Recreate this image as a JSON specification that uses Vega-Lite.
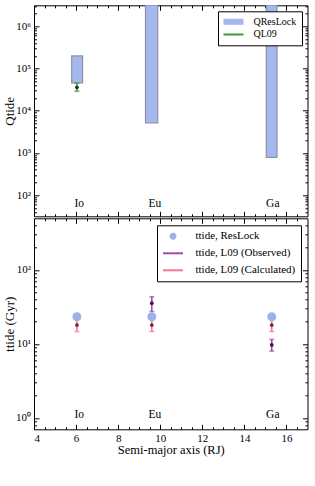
{
  "$schema": "https://vega.github.io/schema/vega-lite/v6.json",
  "background": "white",
  "padding": {"left": 3, "top": 4.3, "right": 0, "bottom": 0},
  "spacing": 0,
  "resolve": {"scale": {"color": "independent", "shape": "independent"}, "legend": {"color": "independent", "shape": "independent"}},
  "datasets": {
    "qbars": [
      {"moon": "Io", "x1": 5.79, "x2": 6.31, "q1": 46000, "q2": 200000, "series": "QResLock"},
      {"moon": "Eu", "x1": 9.3, "x2": 9.88, "q1": 5200, "q2": 10000000, "series": "QResLock"},
      {"moon": "Ga", "x1": 15.04, "x2": 15.55, "q1": 790, "q2": 10000000, "series": "QResLock"}
    ],
    "ql09": [
      {"moon": "Io", "x": 6.04, "q": 36000, "lo": 29000, "hi": 45000, "series": "QL09"}
    ],
    "names": [
      {"x": 6.15, "name": "Io"},
      {"x": 9.75, "name": "Eu"},
      {"x": 15.35, "name": "Ga"}
    ],
    "reslock": [
      {"moon": "Io", "x": 6.04, "t": 23.3, "series": "ttide, ResLock"},
      {"moon": "Eu", "x": 9.6, "t": 23.3, "series": "ttide, ResLock"},
      {"moon": "Ga", "x": 15.3, "t": 23.3, "series": "ttide, ResLock"}
    ],
    "calc": [
      {"moon": "Io", "x": 6.04, "t": 18, "lo": 14.7, "hi": 21.5},
      {"moon": "Eu", "x": 9.6, "t": 18, "lo": 14.7, "hi": 21.5},
      {"moon": "Ga", "x": 15.3, "t": 18, "lo": 14.7, "hi": 21.5}
    ],
    "obs": [
      {"moon": "Eu", "x": 9.6, "t": 35.5, "lo": 27.5, "hi": 43.5},
      {"moon": "Ga", "x": 15.3, "t": 9.7, "lo": 8.0, "hi": 11.5}
    ]
  },
  "vconcat": [
    {
      "width": 273.5,
      "height": 211,
      "resolve": {"axis": {"x": "independent", "y": "independent"}},
      "layer": [
        {
          "data": {"name": "qbars"},
          "mark": {"type": "rect", "fill": "#a5b7ef", "stroke": "#8d93a3", "strokeWidth": 1.2, "clip": true},
          "encoding": {
            "x": {"field": "x1", "type": "quantitative", "scale": {"domain": [4, 17]},
              "axis": {"orient": "bottom", "values": [4,6,8,10,12,14,16], "labels": false, "title": null, "domain": false, "grid": false, "tickColor": "black", "tickWidth": 1, "tickSize": -5}},
            "x2": {"field": "x2"},
            "y": {"field": "q1", "type": "quantitative", "scale": {"type": "log", "domain": [31.62, 3162278]},
              "axis": {"orient": "left", "values": [100,1000,10000,100000,1000000],
                "labelExpr": "'10' + ['⁰','¹','²','³','⁴','⁵','⁶'][round(log(datum.value)/LN10)]",
                "labelOverlap": false, "labelPadding": 8.5, "labelFont": "Liberation Serif", "labelFontSize": 11, "labelColor": "black",
                "title": "Qtide", "titleFont": "Liberation Serif", "titleFontSize": 13, "titleFontWeight": "normal", "titleColor": "black", "titlePadding": -1,
                "domain": false, "grid": false, "tickColor": "black", "tickWidth": 1, "tickSize": -5}},
            "y2": {"field": "q2"}
          }
        },
        {
          "data": {"name": "ql09"},
          "mark": {"type": "errorbar", "ticks": true, "thickness": 1.6, "color": "#3c9a3c"},
          "encoding": {
            "x": {"field": "x", "type": "quantitative", "scale": {"domain": [4, 17]}, "axis": null},
            "y": {"field": "lo", "type": "quantitative", "scale": {"type": "log", "domain": [31.62, 3162278]}, "axis": null},
            "y2": {"field": "hi"}
          }
        },
        {
          "data": {"name": "ql09"},
          "mark": {"type": "point", "filled": true, "opacity": 1, "size": 14, "color": "#123f12"},
          "encoding": {
            "x": {"field": "x", "type": "quantitative", "scale": {"domain": [4, 17]},
              "axis": {"orient": "top", "values": [4,6,8,10,12,14,16], "labels": false, "title": null, "domain": false, "grid": false, "tickColor": "black", "tickWidth": 1, "tickSize": -5}},
            "y": {"field": "q", "type": "quantitative", "scale": {"type": "log", "domain": [31.62, 3162278]},
              "axis": {"orient": "right", "values": [100,1000,10000,100000,1000000], "labels": false, "title": null, "domain": false, "grid": false, "tickColor": "black", "tickWidth": 1, "tickSize": -5}}
          }
        },
        {
          "data": {"name": "names"},
          "mark": {"type": "text", "font": "Liberation Serif", "fontSize": 11.5, "color": "black", "align": "center", "baseline": "middle"},
          "encoding": {
            "x": {"field": "x", "type": "quantitative", "scale": {"domain": [4, 17]},
              "axis": {"orient": "bottom", "values": [4.5,5,5.5,6.5,7,7.5,8.5,9,9.5,10.5,11,11.5,12.5,13,13.5,14.5,15,15.5,16.5], "labels": false, "title": null, "domain": false, "grid": false, "tickColor": "black", "tickWidth": 1, "tickSize": -2.5}},
            "y": {"datum": 61, "type": "quantitative", "scale": {"type": "log", "domain": [31.62, 3162278]},
              "axis": {"orient": "left", "values": [40,50,60,70,80,90,200,300,400,500,600,700,800,900,2000,3000,4000,5000,6000,7000,8000,9000,20000,30000,40000,50000,60000,70000,80000,90000,200000,300000,400000,500000,600000,700000,800000,900000,2000000,3000000], "labels": false, "title": null, "domain": false, "grid": false, "tickColor": "black", "tickWidth": 1, "tickSize": -2.5}},
            "text": {"field": "name"}
          }
        },
        {
          "data": {"name": "qbars"},
          "mark": {"type": "point", "filled": true, "size": 0, "opacity": 1},
          "encoding": {
            "x": {"field": "x1", "type": "quantitative", "scale": {"domain": [4, 17]},
              "axis": {"orient": "top", "values": [4.5,5,5.5,6.5,7,7.5,8.5,9,9.5,10.5,11,11.5,12.5,13,13.5,14.5,15,15.5,16.5], "labels": false, "title": null, "domain": false, "grid": false, "tickColor": "black", "tickWidth": 1, "tickSize": -2.5}},
            "y": {"field": "q1", "type": "quantitative", "scale": {"type": "log", "domain": [31.62, 3162278]},
              "axis": {"orient": "right", "values": [40,50,60,70,80,90,200,300,400,500,600,700,800,900,2000,3000,4000,5000,6000,7000,8000,9000,20000,30000,40000,50000,60000,70000,80000,90000,200000,300000,400000,500000,600000,700000,800000,900000,2000000,3000000], "labels": false, "title": null, "domain": false, "grid": false, "tickColor": "black", "tickWidth": 1, "tickSize": -2.5}},
            "color": {"field": "series", "type": "nominal",
              "scale": {"domain": ["QResLock", "QL09"], "range": ["#a5b7ef", "#3c9a3c"]},
              "legend": {"orient": "top-right", "offset": 6, "title": null, "fillColor": "white", "strokeColor": "black", "padding": 5.5, "cornerRadius": 0,
                "symbolSize": 100, "symbolOffset": 5, "symbolStrokeWidth": 0, "symbolOpacity": 1, "labelOffset": 15, "labelFont": "Liberation Serif", "labelFontSize": 10, "labelColor": "black", "rowPadding": 2.7}},
            "shape": {"field": "series", "type": "nominal",
              "scale": {"domain": ["QResLock", "QL09"], "range": ["M-2,-0.6H2V0.6H-2Z", "M-2,-0.2H2V0.2H-2Z"]}}
          }
        }
      ]
    },
    {
      "width": 273.5,
      "height": 211,
      "resolve": {"axis": {"x": "independent", "y": "independent"}},
      "layer": [
        {
          "data": {"name": "calc"},
          "mark": {"type": "errorbar", "ticks": true, "thickness": 1.6, "color": "#f07b90"},
          "encoding": {
            "x": {"field": "x", "type": "quantitative", "scale": {"domain": [4, 17]}, "axis": null},
            "y": {"field": "lo", "type": "quantitative", "scale": {"type": "log", "domain": [0.7, 500]}, "axis": null},
            "y2": {"field": "hi"}
          }
        },
        {
          "data": {"name": "obs"},
          "mark": {"type": "errorbar", "ticks": true, "thickness": 1.6, "color": "#a24aa8"},
          "encoding": {
            "x": {"field": "x", "type": "quantitative", "scale": {"domain": [4, 17]}, "axis": null},
            "y": {"field": "lo", "type": "quantitative", "scale": {"type": "log", "domain": [0.7, 500]}, "axis": null},
            "y2": {"field": "hi"}
          }
        },
        {
          "data": {"name": "calc"},
          "mark": {"type": "point", "filled": true, "opacity": 1, "size": 14, "color": "#8e1c30"},
          "encoding": {
            "x": {"field": "x", "type": "quantitative", "scale": {"domain": [4, 17]},
              "axis": {"orient": "bottom", "values": [4,6,8,10,12,14,16],
                "labelOverlap": false, "labelPadding": 8, "labelFont": "Liberation Serif", "labelFontSize": 11, "labelColor": "black",
                "title": "Semi-major axis (RJ)", "titleFont": "Liberation Serif", "titleFontSize": 12.5, "titleFontWeight": "normal", "titleColor": "black", "titlePadding": 0.5,
                "domain": false, "grid": false, "tickColor": "black", "tickWidth": 1, "tickSize": -5}},
            "y": {"field": "t", "type": "quantitative", "scale": {"type": "log", "domain": [0.7, 500]},
              "axis": {"orient": "left", "values": [1,10,100],
                "labelExpr": "'10' + ['⁰','¹','²','³','⁴','⁵','⁶'][round(log(datum.value)/LN10)]",
                "labelOverlap": false, "labelPadding": 8.5, "labelFont": "Liberation Serif", "labelFontSize": 11, "labelColor": "black",
                "title": "ttide (Gyr)", "titleFont": "Liberation Serif", "titleFontSize": 13, "titleFontWeight": "normal", "titleColor": "black", "titlePadding": -1,
                "domain": false, "grid": false, "tickColor": "black", "tickWidth": 1, "tickSize": -5}}
          }
        },
        {
          "data": {"name": "obs"},
          "mark": {"type": "point", "filled": true, "opacity": 1, "size": 14, "color": "#4a0f4e"},
          "encoding": {
            "x": {"field": "x", "type": "quantitative", "scale": {"domain": [4, 17]},
              "axis": {"orient": "top", "values": [4,6,8,10,12,14,16], "labels": false, "title": null, "domain": false, "grid": false, "tickColor": "black", "tickWidth": 1, "tickSize": -5}},
            "y": {"field": "t", "type": "quantitative", "scale": {"type": "log", "domain": [0.7, 500]},
              "axis": {"orient": "right", "values": [1,10,100], "labels": false, "title": null, "domain": false, "grid": false, "tickColor": "black", "tickWidth": 1, "tickSize": -5}}
          }
        },
        {
          "data": {"name": "reslock"},
          "mark": {"type": "point", "filled": true, "opacity": 1, "size": 165},
          "encoding": {
            "x": {"field": "x", "type": "quantitative", "scale": {"domain": [4, 17]},
              "axis": {"orient": "bottom", "values": [4.5,5,5.5,6.5,7,7.5,8.5,9,9.5,10.5,11,11.5,12.5,13,13.5,14.5,15,15.5,16.5], "labels": false, "title": null, "domain": false, "grid": false, "tickColor": "black", "tickWidth": 1, "tickSize": -2.5}},
            "y": {"field": "t", "type": "quantitative", "scale": {"type": "log", "domain": [0.7, 500]},
              "axis": {"orient": "left", "values": [0.8,0.9,2,3,4,5,6,7,8,9,20,30,40,50,60,70,80,90,200,300,400], "labels": false, "title": null, "domain": false, "grid": false, "tickColor": "black", "tickWidth": 1, "tickSize": -2.5}},
            "color": {"field": "series", "type": "nominal",
              "scale": {"domain": ["ttide, ResLock", "ttide, L09 (Observed)", "ttide, L09 (Calculated)"], "range": ["#9cb0ea", "#a24aa8", "#f07b90"]},
              "legend": {"orient": "top-right", "offset": 6.5, "title": null, "fillColor": "white", "strokeColor": "black", "padding": 5.5, "cornerRadius": 0,
                "symbolSize": 100, "symbolOffset": 5, "symbolStrokeWidth": 0, "symbolOpacity": 1, "labelOffset": 17, "labelFont": "Liberation Serif", "labelFontSize": 11, "labelColor": "black", "rowPadding": 5}},
            "shape": {"field": "series", "type": "nominal",
              "scale": {"domain": ["ttide, ResLock", "ttide, L09 (Observed)", "ttide, L09 (Calculated)"], "range": ["M0.7,0A0.7,0.7 0 1,1 -0.7,0A0.7,0.7 0 1,1 0.7,0Z", "M-2,-0.2H2V0.2H-2Z", "M-2,-0.2H2V0.2H-2Z"]}}
          }
        },
        {
          "data": {"name": "names"},
          "mark": {"type": "text", "font": "Liberation Serif", "fontSize": 11.5, "color": "black", "align": "center", "baseline": "middle"},
          "encoding": {
            "x": {"field": "x", "type": "quantitative", "scale": {"domain": [4, 17]},
              "axis": {"orient": "top", "values": [4.5,5,5.5,6.5,7,7.5,8.5,9,9.5,10.5,11,11.5,12.5,13,13.5,14.5,15,15.5,16.5], "labels": false, "title": null, "domain": false, "grid": false, "tickColor": "black", "tickWidth": 1, "tickSize": -2.5}},
            "y": {"datum": 1.09, "type": "quantitative", "scale": {"type": "log", "domain": [0.7, 500]},
              "axis": {"orient": "right", "values": [0.8,0.9,2,3,4,5,6,7,8,9,20,30,40,50,60,70,80,90,200,300,400], "labels": false, "title": null, "domain": false, "grid": false, "tickColor": "black", "tickWidth": 1, "tickSize": -2.5}},
            "text": {"field": "name"}
          }
        }
      ]
    }
  ],
  "config": {
    "view": {"stroke": "black", "strokeWidth": 1},
    "concat": {"spacing": 0},
    "font": "Liberation Serif"
  }
}
